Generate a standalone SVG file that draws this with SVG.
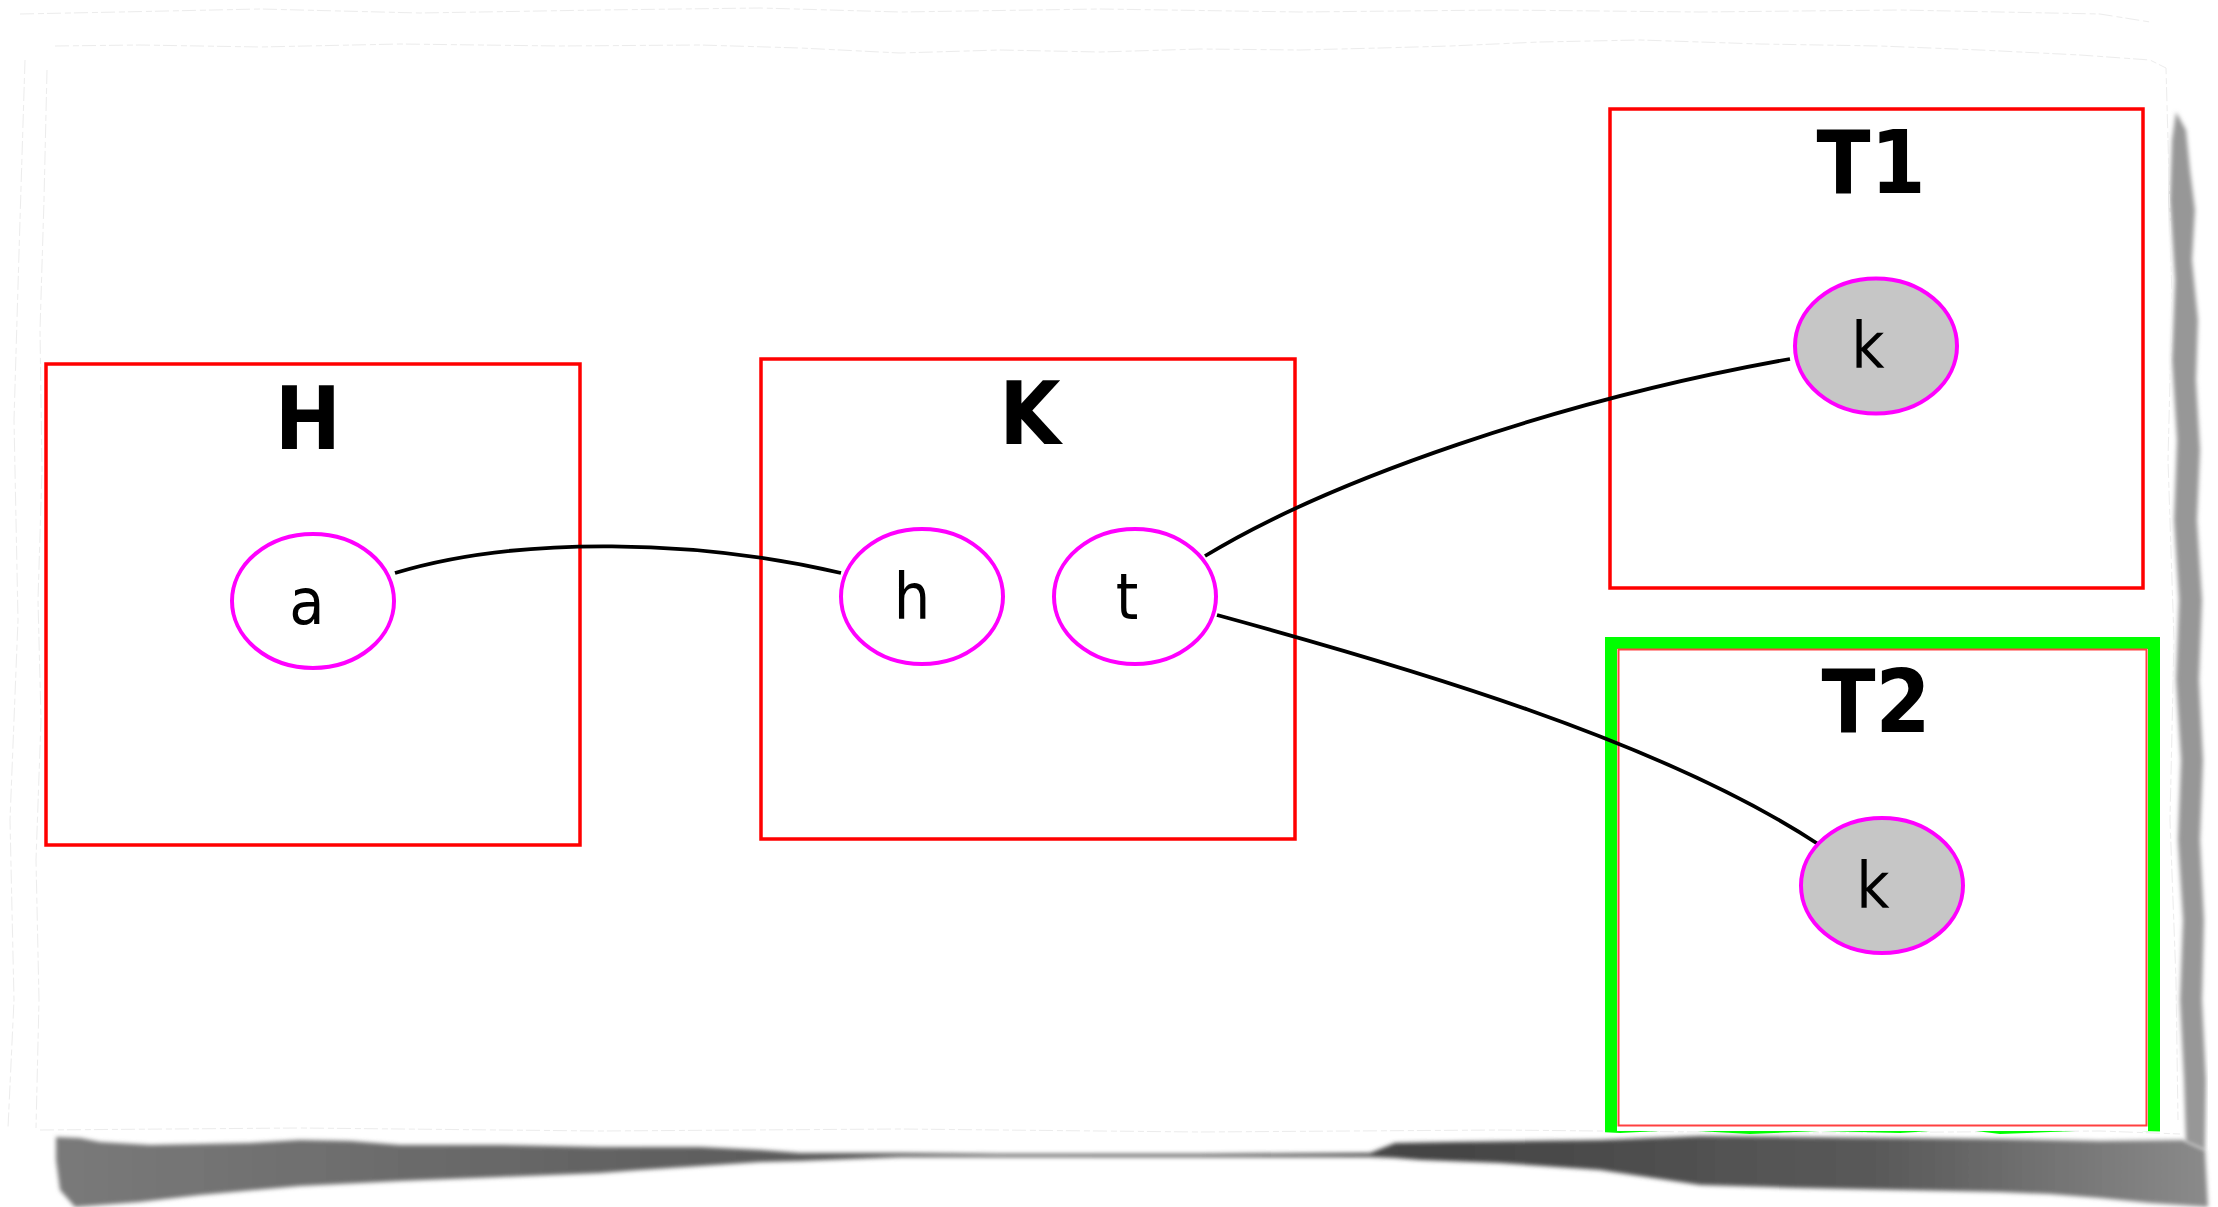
<svg xmlns="http://www.w3.org/2000/svg" width="2218" height="1207" viewBox="0 0 2218 1207">
  <defs>
    <style>
      .cluster { fill: none; stroke: #ff0000; stroke-width: 3.5; }
      .label { font-family: "DejaVu Sans", "Liberation Sans", sans-serif; font-stretch: condensed; font-weight: bold; font-size: 88px; fill: #000; text-anchor: middle; }
      .node ellipse { stroke: #ff00ff; stroke-width: 4; }
      .plain { fill: #ffffff; }
      .filled { fill: #c6c6c6; }
      .node text { font-family: "DejaVu Sans", "Liberation Sans", sans-serif; font-stretch: condensed; font-size: 64px; fill: #000; text-anchor: middle; }
      .edge { fill: none; stroke: #000; stroke-width: 3.8; }
      .tear { fill: none; stroke: #ececec; stroke-width: 1; stroke-dasharray: 14 4 6 3; }
    </style>
    <linearGradient id="shadeBottom" x1="0" y1="0" x2="2218" y2="0" gradientUnits="userSpaceOnUse">
      <stop offset="0" stop-color="#7c7c7c"/>
      <stop offset="0.35" stop-color="#5c5c5c"/>
      <stop offset="0.65" stop-color="#444444"/>
      <stop offset="0.85" stop-color="#5a5a5a"/>
      <stop offset="1" stop-color="#8c8c8c"/>
    </linearGradient>
    <filter id="soft" x="-5%" y="-20%" width="110%" height="140%">
      <feGaussianBlur stdDeviation="2.2"/>
    </filter>
    <clipPath id="sheet">
      <path d="M36,40 L300,36 L700,42 L1200,38 L1700,40 L2165,44 L2172,400 L2178,800 L2182,1132
               L2100,1130 L2000,1134 L1960,1129 L1900,1133 L1820,1131 L1750,1134 L1680,1130 L1620,1133 L1560,1130
               L1000,1131 L400,1130 L40,1128 Z"/>
    </clipPath>
  </defs>

  <rect width="2218" height="1207" fill="#ffffff"/>

  <!-- torn paper sheet: shadow and edges -->
  <g id="paper">
    <path filter="url(#soft)" fill="url(#shadeBottom)" d="
      M56,1137 L80,1138 L100,1142 L150,1145 L250,1143 L300,1140 L350,1141 L400,1145 L500,1145 L600,1147
      L700,1147 L760,1150 L800,1153 L900,1153 L1000,1154 L1200,1154 L1370,1153 L1395,1143 L1450,1142
      L1600,1140 L1700,1136 L1800,1137 L1900,1138 L2000,1139 L2100,1141 L2183,1140
      L2205,1150 L2208,1207
      L2150,1203 L2100,1198 L2050,1194 L2000,1192 L1900,1190 L1800,1188 L1700,1185 L1600,1170
      L1500,1163 L1420,1160 L1395,1158 L1370,1157 L1000,1157 L900,1157 L800,1161 L760,1162
      L700,1166 L640,1170 L600,1173 L500,1177 L400,1181 L300,1186 L200,1195 L140,1202 L75,1207
      L60,1190 L56,1160 Z"/>
    <path filter="url(#soft)" fill="#979797" d="
      M2176,112 L2186,130 L2190,170 L2195,210 L2192,260 L2198,320 L2196,380 L2200,450 L2197,520
      L2202,600 L2199,680 L2203,760 L2200,840 L2204,920 L2202,1000 L2206,1080 L2205,1150
      L2186,1142 L2184,1080 L2180,1000 L2183,920 L2178,840 L2181,760 L2176,680 L2179,600
      L2174,520 L2177,440 L2172,360 L2175,280 L2170,200 L2172,140 Z"/>
    <path class="tear" d="M20,14 L120,12 L260,9 L420,13 L600,10 L760,8 L900,12 L1100,9 L1300,12 L1500,10 L1700,12 L1900,10 L2100,14 L2150,22"/>
    <path class="tear" d="M55,46 L140,45 L260,47 L400,44 L560,46 L700,45 L800,48 L900,53 L1000,50 L1100,52 L1200,49 L1300,50 L1380,48 L1450,46 L1540,42 L1640,40 L1760,44 L1880,46 L1980,50 L2080,55 L2150,60 L2166,68 L2168,140"/>
    <path class="tear" d="M47,70 L44,200 L40,330 L42,470 L38,600 L41,720 L36,860 L39,1000 L36,1128"/>
    <path class="tear" d="M25,60 L20,220 L14,420 L18,620 L10,820 L14,1000 L8,1128"/>
    <path class="tear" d="M2168,140 L2172,300 L2168,460 L2174,640 L2170,820 L2176,980 L2178,1120"/>
    <path class="tear" d="M40,1130 L300,1128 L600,1131 L900,1129 L1200,1132 L1500,1130 L1800,1133 L2100,1131 L2180,1134"/>
  </g>

  <g clip-path="url(#sheet)">
    <!-- clusters -->
    <g id="cluster_H">
      <rect class="cluster" x="46" y="364" width="534" height="481"/>
      <text class="label" x="308" y="449">H</text>
    </g>
    <g id="cluster_K">
      <rect class="cluster" x="761" y="359" width="534" height="480"/>
      <text class="label" x="1030" y="444">K</text>
    </g>
    <g id="cluster_T1">
      <rect class="cluster" x="1610" y="109" width="533" height="479"/>
      <text class="label" x="1871" y="193">T1</text>
    </g>
    <g id="cluster_T2">
      <rect x="1611" y="643" width="543" height="494" fill="none" stroke="#00ff00" stroke-width="12"/>
      <rect x="1618.5" y="649.5" width="528" height="476" fill="none" stroke="#ff4040" stroke-width="2"/>
      <text class="label" x="1876" y="732">T2</text>
    </g>

    <!-- connectors -->
    <g id="edges">
      <path class="edge" d="M395,573 C520,535 700,540 841,573"/>
      <path class="edge" d="M1205,556 C1330,480 1560,400 1790,359"/>
      <path class="edge" d="M1217,615 C1400,665 1660,740 1818,844"/>
    </g>

    <!-- nodes -->
    <g id="node_a" class="node">
      <ellipse class="plain" cx="313" cy="601" rx="81" ry="67"/>
      <text x="307" y="624">a</text>
    </g>
    <g id="node_h" class="node">
      <ellipse class="plain" cx="922" cy="596.5" rx="81" ry="67.5"/>
      <text x="912" y="619">h</text>
    </g>
    <g id="node_t" class="node">
      <ellipse class="plain" cx="1135" cy="596.5" rx="81" ry="67.5"/>
      <text x="1127" y="619">t</text>
    </g>
    <g id="node_T1_k" class="node">
      <ellipse class="filled" cx="1876" cy="346" rx="81" ry="67.5"/>
      <text x="1868" y="368">k</text>
    </g>
    <g id="node_T2_k" class="node">
      <ellipse class="filled" cx="1882" cy="885.5" rx="81" ry="67.5"/>
      <text x="1873" y="908">k</text>
    </g>
  </g>
</svg>
